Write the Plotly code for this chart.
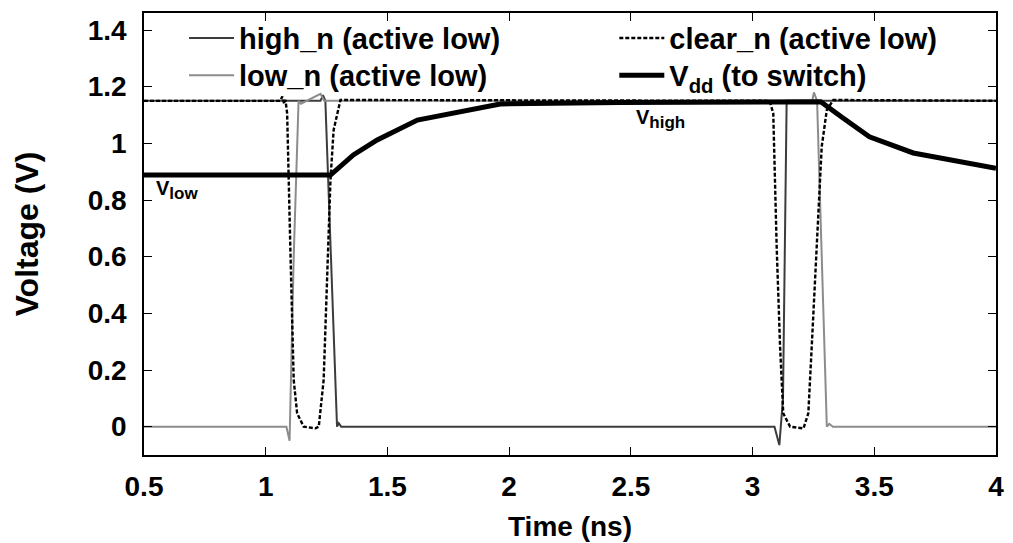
import plotly.graph_objects as go

# ---- data (time in ns, voltage in V) ----
high_n_t = [0.5, 1.225, 1.235, 1.245, 1.293, 1.30, 1.31, 3.09, 3.110, 3.125, 3.140, 4.0]
high_n_v = [1.15, 1.15, 1.17, 1.15, 0.0, 0.012, 0.0, 0.0, -0.065, 0.10, 1.15, 1.15]

low_n_t = [0.5, 1.085, 1.098, 1.115, 1.135, 1.145, 1.225, 1.24, 3.245, 3.252, 3.265, 3.305, 3.315, 3.33, 4.0]
low_n_v = [0.0, 0.0, -0.05, 0.60, 1.15, 1.14, 1.175, 1.15, 1.15, 1.18, 1.15, 0.0, 0.01, 0.0, 0.0]

clear_n_t = [0.5, 1.06, 1.068, 1.076, 1.081, 1.088, 1.101, 1.115, 1.129, 1.156, 1.204, 1.218, 1.238,
             1.252, 1.266, 1.279, 1.307, 3.07, 3.085, 3.099, 3.113, 3.126, 3.154, 3.209, 3.229,
             3.243, 3.264, 3.284, 3.305, 3.332, 4.0]
clear_n_v = [1.15, 1.15, 1.165, 1.14, 1.153, 1.106, 0.635, 0.165, 0.047, 0.0, -0.006, 0.0, 0.165,
             0.518, 0.871, 1.047, 1.153, 1.15, 1.106, 0.635, 0.282, 0.047, 0.0, -0.006, 0.047,
             0.282, 0.635, 0.988, 1.118, 1.153, 1.15]

vdd_t = [0.5, 1.266, 1.360, 1.458, 1.623, 1.963, 2.456, 2.8, 3.28, 3.37, 3.48, 3.66, 4.0]
vdd_v = [0.888, 0.888, 0.959, 1.012, 1.082, 1.139, 1.144, 1.147, 1.147, 1.09, 1.023, 0.966, 0.912]

x_ticks = [0.5, 1, 1.5, 2, 2.5, 3, 3.5, 4]
y_ticks = [0, 0.2, 0.4, 0.6, 0.8, 1, 1.2, 1.4]

FONT = "Liberation Sans, Arial, sans-serif"

fig = go.Figure()
fig.add_trace(go.Scatter(x=high_n_t, y=high_n_v, mode="lines", name="high_n (active low)",
                         line=dict(color="#3c3c3c", width=2), legend="legend", showlegend=True))
fig.add_trace(go.Scatter(x=low_n_t, y=low_n_v, mode="lines", name="low_n (active low)",
                         line=dict(color="#8c8c8c", width=2), legend="legend2", showlegend=True))
fig.add_trace(go.Scatter(x=clear_n_t, y=clear_n_v, mode="lines", name="clear_n (active low)",
                         line=dict(color="black", width=2.4, dash="4px,2px"), legend="legend3",
                         showlegend=True))
fig.add_trace(go.Scatter(x=vdd_t, y=vdd_v, mode="lines", name="V<sub>dd</sub> (to switch)",
                         line=dict(color="black", width=5), legend="legend4", showlegend=True))

axis_common = dict(showline=True, linecolor="black", linewidth=1.5, mirror="allticks",
                   ticks="inside", ticklen=8, tickwidth=1, tickcolor="black",
                   showgrid=False, zeroline=False, automargin=False,
                   tickfont=dict(family=FONT, size=28, color="black", weight="bold"))

fig.update_xaxes(range=[0.5, 4], tickvals=x_ticks, ticklabelstandoff=6,
                 title=dict(text="Time (ns)", font=dict(family=FONT, size=28, color="black", weight="bold"),
                            standoff=15),
                 **axis_common)
fig.update_yaxes(range=[-0.1, 1.46], tickvals=y_ticks, ticklabelstandoff=10,
                 title=dict(text="Voltage (V)", font=dict(family=FONT, size=32, color="black", weight="bold"),
                            standoff=40),
                 **axis_common)

legend_font = dict(family=FONT, size=29, color="black", weight="bold")


def leg(x, y):
    return dict(x=x, y=y, xanchor="left", yanchor="middle", bgcolor="rgba(0,0,0,0)",
                font=legend_font, itemwidth=45, borderwidth=0)


# page body has an 8px default margin: figure is sized/placed to compensate
fig.update_layout(
    width=1005, height=535,
    margin=dict(l=135.5, r=17, t=5, b=88),
    plot_bgcolor="white", paper_bgcolor="white",
    showlegend=True,
    legend=leg(0.047, 0.943),
    legend2=leg(0.047, 0.859),
    legend3=leg(0.552, 0.943),
    legend4=leg(0.552, 0.859),
    annotations=[
        dict(x=0.54, y=0.89, xref="x", yref="y",
             text='V<sub><span style="font-size:17px">low</span></sub>', showarrow=False,
             xanchor="left", yanchor="top", font=dict(family=FONT, size=20, color="black", weight="bold")),
        dict(x=2.512, y=1.14, xref="x", yref="y",
             text='V<sub><span style="font-size:17px">high</span></sub>', showarrow=False,
             xanchor="left", yanchor="top", font=dict(family=FONT, size=20, color="black", weight="bold")),
    ],
)

fig.write_html("out.html")
